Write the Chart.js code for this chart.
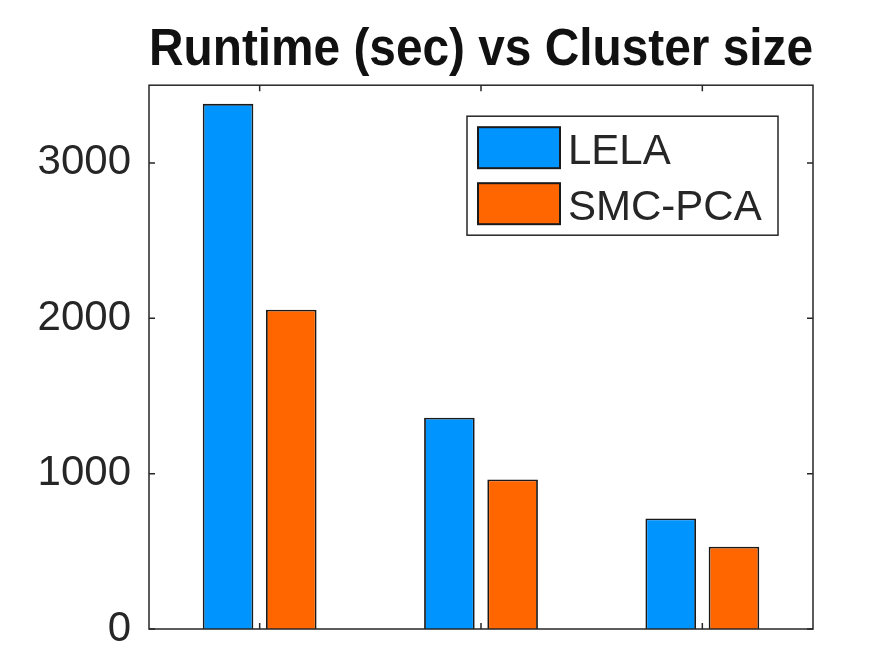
<!DOCTYPE html>
<html>
<head>
<meta charset="utf-8">
<title>Runtime (sec) vs Cluster size</title>
<script src="https://cdn.jsdelivr.net/npm/chart.js@4/dist/chart.umd.min.js"></script>
<style>
  html, body { margin: 0; padding: 0; background: #fff; overflow: hidden; }
  canvas { display: block; }
</style>
</head>
<body>
<canvas id="runtimeChart" width="893" height="651"></canvas>
<script>
// cluster groups (x tick labels are cropped off in the reference)
const groups = ['1', '2', '3'];
const lelaRuntime = [3380, 1360, 712];
const smcPcaRuntime = [2055, 963, 530];
const yTicks = [0, 1000, 2000, 3000];
const yMax = 3500;

const axisColor = '#262626';

// MATLAB-like box around the axes with inward ticks on all four sides
const boxAxes = {
    id: 'boxAxes',
    afterDatasetsDraw(chart) {
        const { ctx, chartArea: a, scales } = chart;
        const len = 6;
        ctx.save();
        ctx.strokeStyle = axisColor;
        ctx.lineWidth = 1.5;
        ctx.strokeRect(a.left, a.top, a.right - a.left, a.bottom - a.top);
        ctx.beginPath();
        yTicks.forEach(function (v) {
            const y = scales.y.getPixelForValue(v);
            ctx.moveTo(a.left, y); ctx.lineTo(a.left + len, y);
            ctx.moveTo(a.right, y); ctx.lineTo(a.right - len, y);
        });
        groups.forEach(function (g, i) {
            const x = scales.x.getPixelForValue(i);
            ctx.moveTo(x, a.bottom); ctx.lineTo(x, a.bottom - len);
            ctx.moveTo(x, a.top); ctx.lineTo(x, a.top + len);
        });
        ctx.stroke();
        ctx.restore();
    }
};

// legend box drawn inside the plot, top right
const boxLegend = {
    id: 'boxLegend',
    afterDraw(chart, args, opts) {
        const { ctx, chartArea: a } = chart;
        const right = a.right - opts.marginRight;
        const left = right - opts.width;
        const top = a.top + opts.marginTop;
        const rows = chart.data.datasets.length;
        const height = opts.padTop * 2 + rows * opts.swatchH + (rows - 1) * opts.rowGap;
        ctx.save();
        ctx.fillStyle = '#fff';
        ctx.fillRect(left, top, opts.width, height);
        ctx.strokeStyle = axisColor;
        ctx.lineWidth = 1.5;
        ctx.strokeRect(left, top, opts.width, height);
        ctx.font = opts.font;
        ctx.textBaseline = 'middle';
        ctx.textAlign = 'left';
        chart.data.datasets.forEach(function (ds, i) {
            const y = top + opts.padTop + i * (opts.swatchH + opts.rowGap);
            const x = left + opts.padLeft;
            ctx.fillStyle = ds.backgroundColor;
            ctx.fillRect(x, y, opts.swatchW, opts.swatchH);
            ctx.strokeStyle = ds.borderColor;
            ctx.lineWidth = 2;
            ctx.strokeRect(x, y, opts.swatchW, opts.swatchH);
            ctx.fillStyle = axisColor;
            ctx.fillText(ds.label, x + opts.swatchW + opts.textGap, y + opts.swatchH / 2 + 5);
        });
        ctx.restore();
    }
};

const ctx = document.getElementById('runtimeChart').getContext('2d');
const chart = new Chart(ctx, {
    type: 'bar',
    data: {
        labels: groups,
        datasets: [{
            label: 'LELA',
            data: lelaRuntime,
            backgroundColor: 'rgb(0, 148, 255)',
            borderColor: '#1a1a1a',
            borderWidth: 1.8,
            borderSkipped: 'start'
        }, {
            label: 'SMC-PCA',
            data: smcPcaRuntime,
            backgroundColor: 'rgb(255, 102, 0)',
            borderColor: '#1a1a1a',
            borderWidth: 1.8,
            borderSkipped: 'start'
        }]
    },
    options: {
        responsive: false,
        animation: false,
        // MATLAB default grouped bar geometry
        datasets: {
            bar: { categoryPercentage: 0.5714, barPercentage: 0.8 }
        },
        layout: {
            padding: { left: 0, right: 80, top: 0, bottom: 22 }
        },
        scales: {
            x: {
                grid: { display: false, drawTicks: false },
                border: { display: false },
                ticks: { display: false },
                afterFit: function (scale) { scale.height = 0; }
            },
            y: {
                min: 0,
                max: yMax,
                grid: { display: false, drawTicks: false },
                border: { display: false },
                afterBuildTicks: function (scale) {
                    scale.ticks = yTicks.map(function (v) { return { value: v }; });
                },
                afterFit: function (scale) {
                    scale.width = 149;
                    scale.paddingTop = 0;
                    scale.paddingBottom = 0;
                },
                ticks: {
                    padding: 18,
                    color: axisColor,
                    font: { family: '"Liberation Sans", Arial, sans-serif', size: 42 },
                    callback: function (v) { return String(v); }
                }
            }
        },
        plugins: {
            legend: { display: false },
            tooltip: { enabled: false },
            title: {
                display: true,
                fullSize: false,
                text: 'Runtime (sec) vs Cluster size',
                color: '#111',
                font: { family: '"Liberation Sans", Arial, sans-serif', size: 51, weight: 'bold' },
                padding: { top: 20, bottom: 4 }
            },
            boxLegend: {
                width: 311,
                marginRight: 35,
                marginTop: 31,
                padTop: 11,
                padLeft: 11,
                swatchW: 82,
                swatchH: 41,
                rowGap: 15,
                textGap: 8,
                font: '42px "Liberation Sans", Arial, sans-serif'
            }
        }
    },
    plugins: [boxAxes, boxLegend]
});
</script>
</body>
</html>
